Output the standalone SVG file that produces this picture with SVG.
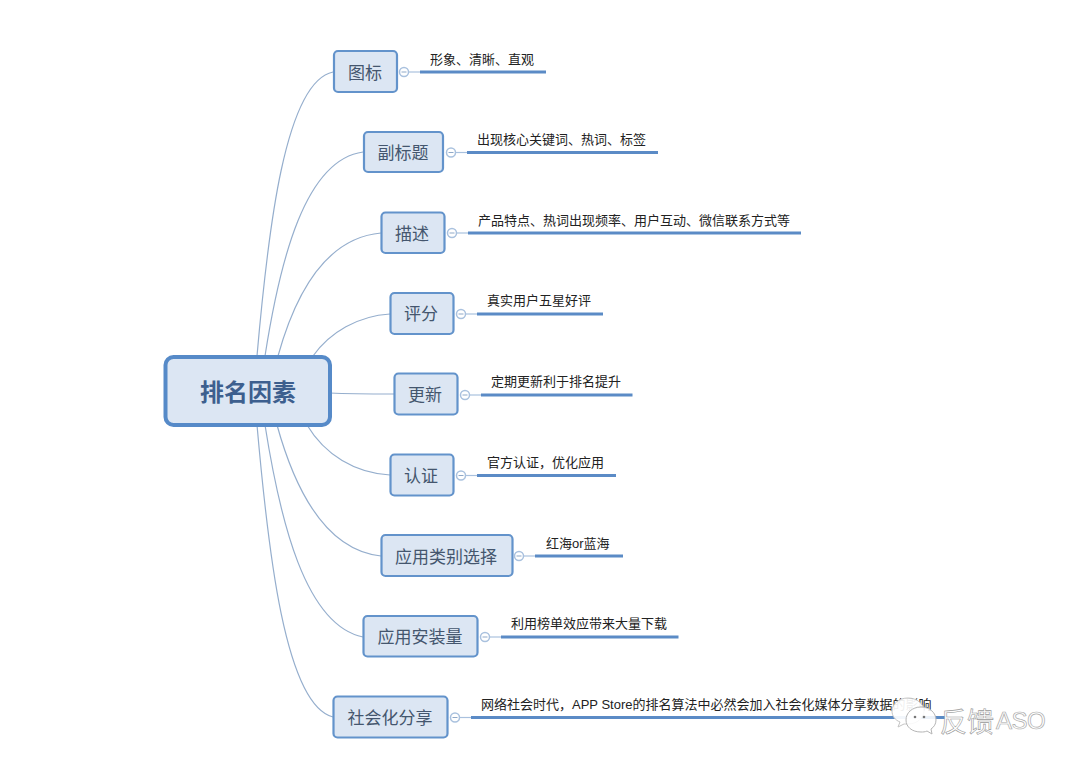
<svg xmlns="http://www.w3.org/2000/svg" width="1080" height="767" viewBox="0 0 1080 767">
<style>
text{font-family:"Liberation Sans","Noto Sans CJK SC",sans-serif}
.n{fill:#dce6f3;stroke:#6393cb;stroke-width:2.200}
.t{font-size:17px;fill:#44566e;text-anchor:middle}
.l{font-size:13px;fill:#222}
.c{fill:none;stroke:#95aecd;stroke-width:1.200}
.b{stroke:#5b8bc6;stroke-width:3}
.s{stroke:#a9c1de;stroke-width:1.200}
.o{fill:#fff;stroke:#a9c1de;stroke-width:1.500}
.m{stroke:#8fa9c8;stroke-width:1}
</style>
<rect width="1080" height="767" fill="#fff"/>
<g id="connectors">
<path class="c" d="M257 356C268 230 285 82 333 72"/>
<path class="c" d="M265 356C280 260 305 160 363 152"/>
<path class="c" d="M278 356C295 295 325 238 381 233"/>
<path class="c" d="M313 356C330 332 358 316 390 314"/>
<path class="c" d="M330 393C350 394 375 394 394 394"/>
<path class="c" d="M307 425C325 455 355 473 390 475"/>
<path class="c" d="M277 425C295 490 325 550 381 556"/>
<path class="c" d="M265 425C280 520 305 625 363 637"/>
<path class="c" d="M257 425C268 550 285 705 333 717"/>
</g>
<g id="center"><rect x="165.500" y="357" width="164.500" height="68" rx="8" fill="#dce6f3" stroke="#568ac8" stroke-width="4"/><text x="248" y="401" font-size="24" font-weight="700" fill="#3d5f8e" text-anchor="middle">排名因素</text></g>
<g id="n1"><rect class="n" x="334" y="51" width="63" height="41" rx="4"/><text class="t" x="365" y="78.500">图标</text><line class="s" x1="409" y1="72" x2="420" y2="72"/><circle class="o" cx="404" cy="72" r="4.500"/><line class="m" x1="401.500" y1="72" x2="406.500" y2="72"/><line class="b" x1="420" y1="72" x2="546" y2="72"/><text class="l" x="430" y="63.500">形象、清晰、直观</text></g>
<g id="n2"><rect class="n" x="364" y="132" width="79" height="40" rx="4"/><text class="t" x="403" y="158.500">副标题</text><line class="s" x1="455" y1="152.500" x2="467" y2="152.500"/><circle class="o" cx="451" cy="152.500" r="4.500"/><line class="m" x1="448.500" y1="152.500" x2="453.500" y2="152.500"/><line class="b" x1="467" y1="152.500" x2="658" y2="152.500"/><text class="l" x="477" y="144">出现核心关键词、热词、标签</text></g>
<g id="n3"><rect class="n" x="381.500" y="212.500" width="63" height="40.500" rx="4"/><text class="t" x="412" y="239.500">描述</text><line class="s" x1="456" y1="233" x2="468" y2="233"/><circle class="o" cx="452" cy="233" r="4.500"/><line class="m" x1="449.500" y1="233" x2="454.500" y2="233"/><line class="b" x1="468" y1="233" x2="801" y2="233"/><text class="l" x="478" y="225">产品特点、热词出现频率、用户互动、微信联系方式等</text></g>
<g id="n4"><rect class="n" x="390.500" y="293" width="63" height="41" rx="4"/><text class="t" x="421" y="320">评分</text><line class="s" x1="465" y1="314" x2="477" y2="314"/><circle class="o" cx="461" cy="314" r="4.500"/><line class="m" x1="458.500" y1="314" x2="463.500" y2="314"/><line class="b" x1="477" y1="314" x2="603" y2="314"/><text class="l" x="487" y="305">真实用户五星好评</text></g>
<g id="n5"><rect class="n" x="394.500" y="373.500" width="63" height="41" rx="4"/><text class="t" x="425" y="400.500">更新</text><line class="s" x1="469" y1="395" x2="481" y2="395"/><circle class="o" cx="465" cy="395" r="4.500"/><line class="m" x1="462.500" y1="395" x2="467.500" y2="395"/><line class="b" x1="481" y1="395" x2="632.500" y2="395"/><text class="l" x="491" y="386">定期更新利于排名提升</text></g>
<g id="n6"><rect class="n" x="390.500" y="454.500" width="63" height="41" rx="4"/><text class="t" x="421" y="481.500">认证</text><line class="s" x1="465" y1="475.500" x2="477" y2="475.500"/><circle class="o" cx="461" cy="475.500" r="4.500"/><line class="m" x1="458.500" y1="475.500" x2="463.500" y2="475.500"/><line class="b" x1="477" y1="475.500" x2="616" y2="475.500"/><text class="l" x="487" y="467">官方认证，优化应用</text></g>
<g id="n7"><rect class="n" x="381.500" y="535" width="131" height="41" rx="4"/><text class="t" x="446" y="562.500">应用类别选择</text><line class="s" x1="523" y1="556" x2="535" y2="556"/><circle class="o" cx="519" cy="556" r="4.500"/><line class="m" x1="516.500" y1="556" x2="521.500" y2="556"/><line class="b" x1="535" y1="556" x2="623" y2="556"/><text class="l" x="546" y="548">红海or蓝海</text></g>
<g id="n8"><rect class="n" x="363.500" y="616" width="114" height="40.500" rx="4"/><text class="t" x="420" y="643">应用安装量</text><line class="s" x1="489" y1="637" x2="501" y2="637"/><circle class="o" cx="485" cy="637" r="4.500"/><line class="m" x1="482.500" y1="637" x2="487.500" y2="637"/><line class="b" x1="501" y1="637" x2="678.500" y2="637"/><text class="l" x="511" y="628">利用榜单效应带来大量下载</text></g>
<g id="n9"><rect class="n" x="333.500" y="696.500" width="114" height="41" rx="4"/><text class="t" x="390" y="723.500">社会化分享</text><line class="s" x1="459" y1="717.500" x2="471" y2="717.500"/><circle class="o" cx="455" cy="717.500" r="4.500"/><line class="m" x1="452.500" y1="717.500" x2="457.500" y2="717.500"/><line class="b" x1="471" y1="717.500" x2="945" y2="717.500"/><text class="l" x="481" y="709">网络社会时代，APP Store的排名算法中必然会加入社会化媒体分享数据的影响</text></g>
<g id="watermark">
<path d="M908 698c9 0 16 6 16 13s-7 13-16 13c-2 0-3 0-4 0l-6 3 2-5c-5-2-8-6-8-11 0-7 7-13 16-13z" fill="#fff" fill-opacity=".92" stroke="#c4c4c4"/>
<path d="M921 707c9 0 15 6 15 13 0 4-2 7-5 9l1 5-5-3c-2 1-4 1-6 1-9 0-15-5-15-12s6-13 15-13z" fill="#fff" fill-opacity=".88" stroke="#b5b5b5"/>
<circle cx="915" cy="717" r="1.300" fill="#777"/><circle cx="924" cy="717" r="1.300" fill="#777"/>
<text x="940" y="732" font-size="27" fill="#fff" stroke="#999" stroke-width=".6">反馈</text>
<text x="996" y="729" font-size="24" letter-spacing="-.5" fill="#fff" stroke="#aaa" stroke-width=".7">ASO</text>
</g>
</svg>
